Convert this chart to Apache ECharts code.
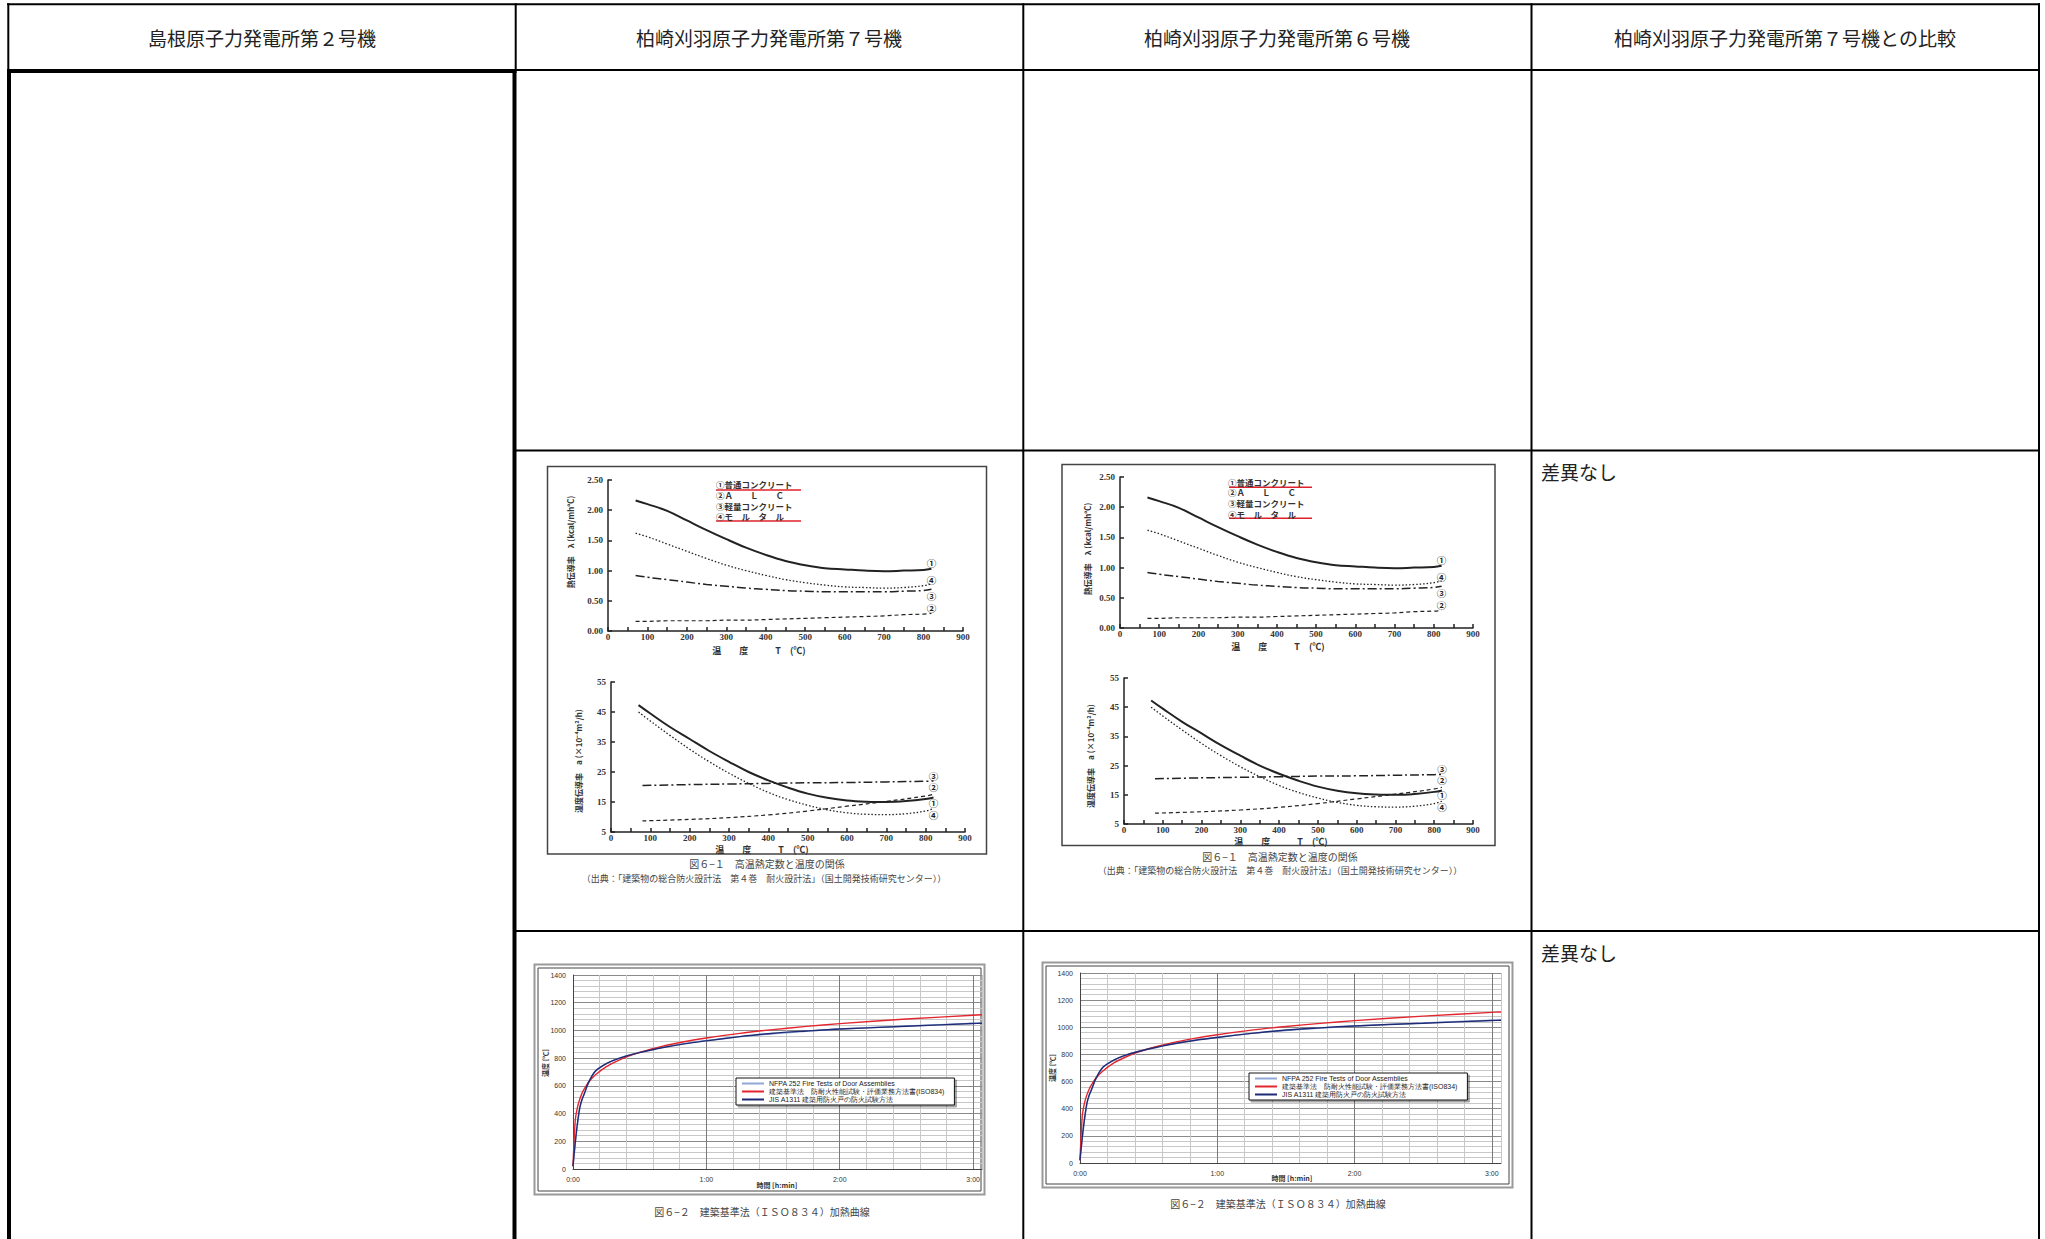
<!DOCTYPE html>
<html>
<head>
<meta charset="utf-8">
<title>高温熱定数と温度の関係 / 加熱曲線</title>
<script src="https://cdn.jsdelivr.net/npm/echarts@6/dist/echarts.min.js"></script>
<style>
  html, body { margin: 0; padding: 0; background: #fff; }
  #main { width: 2045px; height: 1239px; }
</style>
</head>
<body>
<div id="main"></div>
<script>
// 表の見出しと比較欄
const headers = ['島根原子力発電所第２号機', '柏崎刈羽原子力発電所第７号機', '柏崎刈羽原子力発電所第６号機', '柏崎刈羽原子力発電所第７号機との比較']
const remark = '差異なし'

// 図6-1 上段: 熱伝導率 λ (kcal/mh℃)
const lamTemp = [70, 100, 150, 200, 250, 300, 350, 400, 450, 500, 550, 600, 650, 700, 750, 800, 820]
const lam1 = [2.16, 2.10, 1.99, 1.83, 1.67, 1.52, 1.38, 1.26, 1.16, 1.09, 1.04, 1.02, 1.00, 0.99, 1.00, 1.01, 1.03]
const lam2 = [0.16, 0.16, 0.17, 0.17, 0.17, 0.18, 0.18, 0.19, 0.20, 0.21, 0.22, 0.23, 0.24, 0.25, 0.27, 0.28, 0.29]
const lam3 = [0.92, 0.89, 0.85, 0.81, 0.77, 0.74, 0.71, 0.69, 0.67, 0.66, 0.65, 0.65, 0.65, 0.65, 0.66, 0.67, 0.69]
const lam4 = [1.62, 1.56, 1.44, 1.32, 1.20, 1.09, 1.00, 0.92, 0.85, 0.80, 0.76, 0.73, 0.72, 0.71, 0.72, 0.75, 0.78]

// 図6-1 下段: 温度伝導率 a (×10⁻⁴m²/h)
const diffTemp = [70, 100, 150, 200, 250, 300, 350, 400, 450, 500, 550, 600, 650, 700, 750, 800, 820]
const diff1 = [47.3, 44.5, 40.0, 36.0, 32.0, 28.4, 25.0, 22.2, 19.8, 17.8, 16.4, 15.5, 15.1, 15.0, 15.3, 16.0, 16.5]
const diff4 = [45.0, 42.0, 37.2, 32.6, 28.4, 24.6, 21.2, 18.2, 15.8, 13.9, 12.4, 11.4, 10.9, 10.8, 11.1, 12.0, 12.8]
const diffTemp2 = [80, 200, 300, 400, 500, 600, 700, 800, 820]
const diff2 = [8.7, 9.2, 9.8, 10.7, 12.0, 13.6, 15.2, 17.0, 17.6]
const diff3 = [20.5, 20.8, 21.0, 21.2, 21.4, 21.5, 21.7, 21.9, 22.0]
const diffTicks = [5, 15, 25, 35, 45, 55]

const materials = ['①普通コンクリート', '②Ａ　　Ｌ　　Ｃ', '③軽量コンクリート', '④モ　ル　タ　ル']

// 図6-2 加熱曲線 (分, ℃)
const fireMin = [0, 1, 2, 3, 4, 5, 7, 10, 15, 20, 25, 30, 40, 50, 60, 75, 90, 105, 120, 150, 180, 184]
const nfpa = [20, 180, 320, 430, 495, 538, 620, 704, 760, 795, 821, 843, 878, 905, 927, 955, 976, 994, 1010, 1032, 1052, 1054]
const iso = [20, 349, 445, 502, 544, 576, 626, 678, 739, 781, 815, 842, 885, 918, 945, 979, 1006, 1029, 1049, 1082, 1110, 1113]
const jis = [20, 190, 330, 440, 500, 540, 625, 705, 760, 795, 820, 840, 875, 903, 925, 955, 980, 996, 1010, 1030, 1050, 1052]
const fireNames = ['NFPA 252 Fire Tests of Door Assemblies', '建築基準法　防耐火性能試験・評価業務方法書(ISO834)', 'JIS A1311 建築用防火戸の防火試験方法']
const fireColors = ['#8fa8d8', '#e3262e', '#1f2b74']
const fireTicks = [0, 200, 400, 600, 800, 1000, 1200, 1400]
const timeTicks = [0, 60, 120, 180]

const JP = 'Noto Sans CJK JP'
const ink = '#222'

// 線種
const curveStyle = {
  '①': { type: 'solid', width: 2 },
  '②': { type: [4, 3], width: 1.2 },
  '③': { type: [9, 3, 2, 3], width: 1.5 },
  '④': { type: [1.5, 2], width: 1.3 }
}
const lamOffset = { '①': -6, '②': -5, '③': 7, '④': -4 }
const diffOffset = { '①': 5, '②': -7, '③': -5, '④': 6 }

function curve(mark, xs, ys, gi, dy) {
  return {
    type: 'line',
    name: mark,
    xAxisIndex: gi,
    yAxisIndex: gi,
    data: xs.map((x, i) => [x, ys[i]]),
    smooth: 0.4,
    showSymbol: false,
    silent: true,
    lineStyle: { color: ink, width: curveStyle[mark].width, type: curveStyle[mark].type },
    endLabel: { show: true, formatter: mark, align: 'center', offset: [-8, dy], fontSize: 9.5, lineHeight: 9.5, fontWeight: 'bold', color: ink, fontFamily: JP }
  }
}

function tempAxis(gi) {
  return {
    type: 'value', gridIndex: gi, min: 0, max: 900, interval: 100,
    axisLine: { show: true, onZero: false, lineStyle: { color: ink, width: 1.5 } },
    axisTick: { show: true, inside: true, length: 4, lineStyle: { color: ink, width: 1.5 } },
    minorTick: { show: true, splitNumber: 2, length: 4, lineStyle: { color: ink, width: 1.5 } },
    splitLine: { show: false },
    axisLabel: { margin: 1, fontSize: 9, lineHeight: 9, fontFamily: 'Liberation Serif', fontWeight: 'bold', color: '#333' }
  }
}
function lamAxis(gi) {
  return {
    type: 'value', gridIndex: gi, min: 0, max: 2.5, interval: 0.5,
    axisLine: { show: true, lineStyle: { color: ink, width: 1.5 } },
    axisTick: { show: true, inside: true, length: 4, lineStyle: { color: ink, width: 1.5 } },
    splitLine: { show: false },
    axisLabel: { margin: 5, fontSize: 9, fontFamily: 'Liberation Serif', fontWeight: 'bold', color: '#333', formatter: v => v.toFixed(2) }
  }
}
function diffAxis(gi) {
  return {
    type: 'value', gridIndex: gi, min: 5, max: 55,
    axisLine: { show: true, lineStyle: { color: ink, width: 1.5 } },
    axisTick: { show: true, inside: true, length: 4, customValues: diffTicks, lineStyle: { color: ink, width: 1.5 } },
    splitLine: { show: false },
    axisLabel: { margin: 5, fontSize: 9, fontFamily: 'Liberation Serif', fontWeight: 'bold', color: '#333', customValues: diffTicks }
  }
}
const hm = v => Math.floor(v / 60) + ':' + String(v % 60).padStart(2, '0')
function timeAxis(gi) {
  return {
    type: 'value', gridIndex: gi, min: 0, max: 184, interval: 12,
    axisLine: { show: true, onZero: false, lineStyle: { color: '#444', width: 1 } },
    axisTick: { show: false },
    splitLine: { show: true, lineStyle: { color: ['#7a7a7a', '#c8c8c8', '#c8c8c8', '#c8c8c8', '#c8c8c8'], width: 1 } },
    axisLabel: { customValues: timeTicks, formatter: hm, margin: 7, fontSize: 7, fontFamily: 'Liberation Sans', color: '#333' }
  }
}
function fireAxis(gi) {
  return {
    type: 'value', gridIndex: gi, min: 0, max: 1400, interval: 40,
    axisLine: { show: true, lineStyle: { color: '#444', width: 1 } },
    axisTick: { show: false },
    splitLine: { show: true, lineStyle: { color: ['#8a8a8a', '#c8c8c8', '#c8c8c8', '#c8c8c8', '#c8c8c8'], width: 1 } },
    axisLabel: { customValues: fireTicks, formatter: v => String(v), margin: 7, fontSize: 7, fontFamily: 'Liberation Sans', color: '#333' }
  }
}
function fireLegend(left, top) {
  return {
    orient: 'vertical', left, top, data: fireNames, selectedMode: false,
    itemGap: 1, itemWidth: 22, itemHeight: 2, icon: 'rect',
    padding: [2, 10, 2, 6], borderColor: '#111', borderWidth: 1, backgroundColor: '#fff',
    shadowColor: 'rgba(0,0,0,0.35)', shadowOffsetX: 2, shadowOffsetY: 2,
    textStyle: { fontSize: 7, lineHeight: 7, fontFamily: 'Liberation Sans', color: '#222' }
  }
}

const series = []
const figs = [{ lam: 0, diff: 1, fire: 4 }, { lam: 2, diff: 3, fire: 5 }]
figs.forEach(f => {
  series.push(curve('①', lamTemp, lam1, f.lam, lamOffset['①']))
  series.push(curve('④', lamTemp, lam4, f.lam, lamOffset['④']))
  series.push(curve('③', lamTemp, lam3, f.lam, lamOffset['③']))
  series.push(curve('②', lamTemp, lam2, f.lam, lamOffset['②']))
  series.push(curve('①', diffTemp, diff1, f.diff, diffOffset['①']))
  series.push(curve('④', diffTemp, diff4, f.diff, diffOffset['④']))
  series.push(curve('③', diffTemp2, diff3, f.diff, diffOffset['③']))
  series.push(curve('②', diffTemp2, diff2, f.diff, diffOffset['②']))
  ;[nfpa, iso, jis].forEach((vals, k) => {
    series.push({
      type: 'line', name: fireNames[k], xAxisIndex: f.fire, yAxisIndex: f.fire,
      data: fireMin.map((m, i) => [m, vals[i]]),
      smooth: 0.3, showSymbol: false, silent: true, color: fireColors[k],
      lineStyle: { color: fireColors[k], width: 1.4 }
    })
  })
})

// 罫線・文字
const g = []
function bar(x, y, w, h) {
  g.push({ type: 'rect', silent: true, shape: { x, y, width: w, height: h }, style: { fill: '#000' } })
}
function frame(x, y, w, h, color, lw) {
  g.push({ type: 'rect', silent: true, shape: { x, y, width: w, height: h }, style: { fill: 'none', stroke: color, lineWidth: lw } })
}
function txt(x, y, text, size, opt) {
  opt = opt || {}
  g.push({
    type: 'text', silent: true, x, y, rotation: opt.rot || 0, z: 10,
    style: {
      text, fontSize: size, fontFamily: opt.font || JP, fontWeight: opt.weight || 'normal',
      fill: opt.color || ink, align: opt.align || 'center', verticalAlign: 'middle'
    }
  })
}

// table
bar(7, 3.3, 2033, 2)
bar(7.3, 3.3, 2, 67)
bar(7, 69, 4, 1170)
bar(512.5, 69, 4, 1170)
bar(7, 69, 509.5, 4)
bar(515, 69, 1525, 2)
bar(514.7, 3.3, 2, 67)
bar(1022.3, 3.3, 2, 1236)
bar(1530.5, 3.3, 2, 1236)
bar(2038, 3.3, 2, 1236)
bar(515, 449.5, 1525, 2)
bar(515, 930, 1525, 2)
;[262, 769, 1277, 1785].forEach((cx, i) => txt(cx, 37, headers[i], 19))
txt(1541, 471, remark, 19, { align: 'left' })
txt(1541, 952, remark, 19, { align: 'left' })

// 図6-1 (第7号機, 第6号機)
const f61 = [
  { frame: [547.5, 466.5, 439, 387.5], legX: 716, legY: [484.3, 495, 505.5, 516], red: [490, 521], redX: [716, 801],
    xt: [[759, 650], [762, 849]], yt: [[570, 542], [578, 761]], cap: [767, 863], src: [764, 878] },
  { frame: [1062, 464.5, 433, 381], legX: 1228, legY: [481.7, 492.3, 503.3, 514], red: [487.3, 518.3], redX: [1229, 1312],
    xt: [[1278, 646], [1281, 841]], yt: [[1087, 549], [1090, 756]], cap: [1280, 856.5], src: [1280, 870] }
]
f61.forEach(f => {
  frame(f.frame[0], f.frame[1], f.frame[2], f.frame[3], '#444', 1.5)
  materials.forEach((m, i) => txt(f.legX, f.legY[i], m, 8.5, { align: 'left', weight: 'bold', color: '#333' }))
  f.red.forEach(y => g.push({ type: 'line', silent: true, shape: { x1: f.redX[0], y1: y, x2: f.redX[1], y2: y }, style: { stroke: '#e0202a', lineWidth: 1.5 } }))
  f.xt.forEach(p => txt(p[0], p[1], '温　　度　　　T　(℃)', 9, { weight: 'bold', color: '#333' }))
  txt(f.yt[0][0], f.yt[0][1], '熱伝導率　λ (kcal/mh℃)', 8, { rot: Math.PI / 2, weight: 'bold', color: '#333' })
  txt(f.yt[1][0], f.yt[1][1], '温度伝導率　a (×10⁻⁴m²/h)', 8, { rot: Math.PI / 2, weight: 'bold', color: '#333' })
  txt(f.cap[0], f.cap[1], '図６−１　高温熱定数と温度の関係', 10, { color: '#444' })
  txt(f.src[0], f.src[1], '（出典：「建築物の総合防火設計法　第４巻　耐火設計法」（国土開発技術研究センター））', 9, { color: '#444' })
})

// 図6-2
const f62 = [
  { outer: [534.5, 964.5, 450, 230], yt: [545, 1063], xt: [777, 1185], cap: [762, 1211.5] },
  { outer: [1042.5, 962.5, 470, 225], yt: [1052, 1068], xt: [1292, 1178], cap: [1278, 1203] }
]
f62.forEach(f => {
  const o = f.outer
  frame(o[0], o[1], o[2], o[3], '#999', 2)
  frame(o[0] + 3.5, o[1] + 3.5, o[2] - 7, o[3] - 7, '#444', 1)
  txt(f.yt[0], f.yt[1], '温度 [℃]', 7, { rot: Math.PI / 2, weight: 'bold', color: '#333' })
  txt(f.xt[0], f.xt[1], '時間 [h:min]', 7, { weight: 'bold', color: '#333' })
  txt(f.cap[0], f.cap[1], '図６−２　建築基準法（ＩＳＯ８３４）加熱曲線', 10, { color: '#444' })
})

const chart = echarts.init(document.getElementById('main'), null, { renderer: 'svg' })
chart.setOption({
  animation: false,
  backgroundColor: '#fff',
  grid: [
    { left: 608, top: 480, width: 355, height: 151 },
    { left: 611, top: 682, width: 354, height: 150 },
    { left: 1120, top: 477, width: 353, height: 151 },
    { left: 1124, top: 678, width: 349, height: 146 },
    { left: 573, top: 975, width: 409, height: 194 },
    { left: 1080, top: 973, width: 421, height: 190 }
  ],
  xAxis: [tempAxis(0), tempAxis(1), tempAxis(2), tempAxis(3), timeAxis(4), timeAxis(5)],
  yAxis: [lamAxis(0), diffAxis(1), lamAxis(2), diffAxis(3), fireAxis(4), fireAxis(5)],
  legend: [fireLegend(736, 1078), fireLegend(1249, 1073)],
  graphic: g,
  series
})
</script>
</body>
</html>
